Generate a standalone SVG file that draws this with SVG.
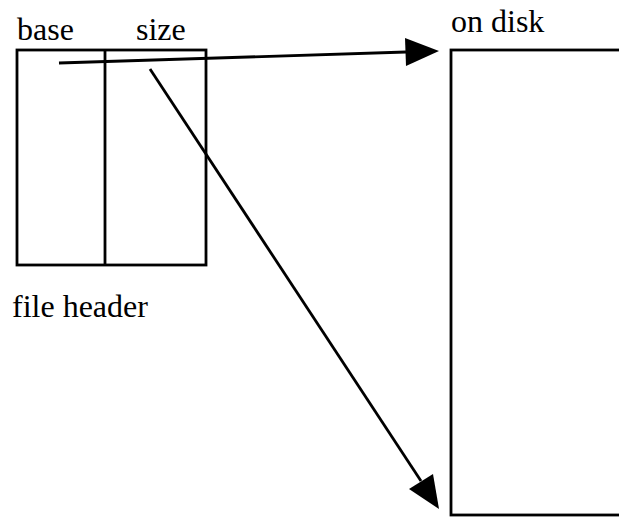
<svg xmlns="http://www.w3.org/2000/svg" width="619" height="517" viewBox="0 0 619 517">
  <rect width="619" height="517" fill="#fff"/>

  <!-- file header record: base | size -->
  <g id="file-header" fill="none" stroke="#000" stroke-width="2.8">
    <rect x="17" y="50" width="189" height="215"/>
    <line x1="105" y1="50" x2="105" y2="265"/>
  </g>
  <text x="17" y="40" font-family="Liberation Serif" font-size="32">base</text>
  <text x="136" y="40" font-family="Liberation Serif" font-size="32">size</text>
  <text x="12" y="317" font-family="Liberation Serif" font-size="32">file header</text>

  <!-- region on disk -->
  <g id="on-disk" fill="none" stroke="#000" stroke-width="2.8">
    <rect x="451" y="50" width="170" height="465"/>
  </g>
  <text x="451" y="32" font-family="Liberation Serif" font-size="32">on disk</text>

  <!-- pointers from the header fields to the disk region -->
  <g id="connectors">
    <line x1="59" y1="63" x2="406" y2="52" stroke="#000" stroke-width="2.8"/>
    <polygon points="405,38 439,51 406,66" fill="#000"/>
    <line x1="150" y1="69" x2="421" y2="481" stroke="#000" stroke-width="2.8"/>
    <polygon points="409,489 439,509 433,474" fill="#000"/>
  </g>
</svg>
